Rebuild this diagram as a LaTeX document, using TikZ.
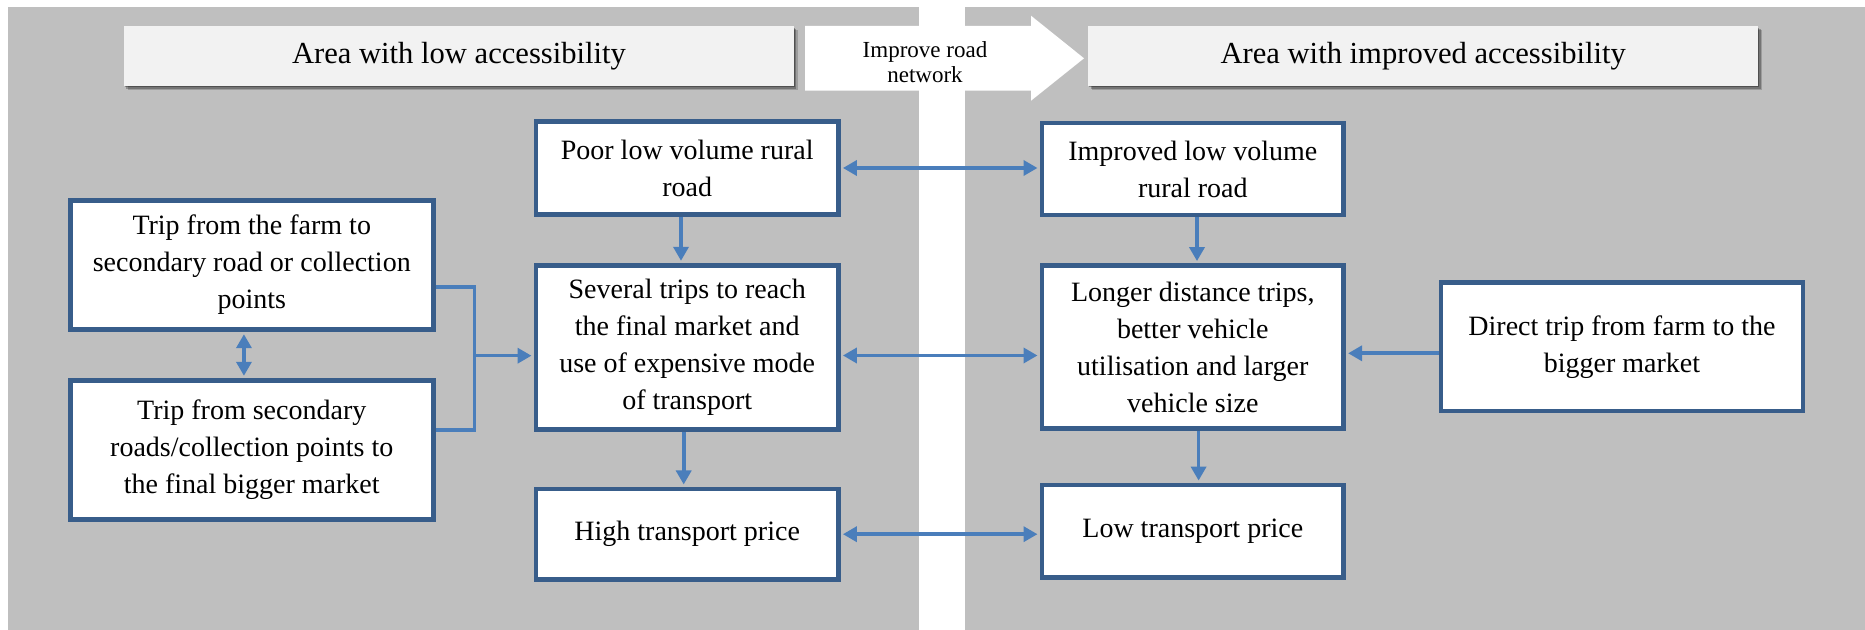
\documentclass[tikz,border=0pt]{standalone}
\usepackage{fontspec}
\setmainfont{Liberation Serif}
\usetikzlibrary{arrows.meta,shadows}
\definecolor{panelgray}{HTML}{BFBFBF}
\definecolor{headfill}{HTML}{F2F2F2}
\definecolor{boxedge}{HTML}{385D8A}
\definecolor{linkblue}{HTML}{4A7EBB}

\begin{document}
\begin{tikzpicture}[x=0.5pt, y=-0.5pt,
  panel/.style={fill=panelgray, draw=none},
  header/.style={fill=headfill, draw=none, inner sep=0pt,
    minimum width=335pt, minimum height=29.85pt,
    font=\fontsize{15.3}{18}\selectfont,
    drop shadow={shadow xshift=1.8pt, shadow yshift=-2.2pt, opacity=0.18, fill=black},
    drop shadow={shadow xshift=1.2pt, shadow yshift=-1.5pt, opacity=0.25, fill=black},
    drop shadow={shadow xshift=0.6pt, shadow yshift=-0.8pt, opacity=0.3, fill=black}},
  box/.style={draw=boxedge, line width=2.3pt, fill=white, inner sep=0pt,
    align=center, font=\fontsize{14}{18.5}\selectfont},
  tipshape/.tip={Triangle[length=7pt,width=7.5pt]},
  linkline/.style={draw=linkblue, line width=1.8pt},
  oneway/.style={linkline, -tipshape, shorten >=1.1pt},
  twoway/.style={linkline, tipshape-tipshape, shorten >=1.1pt, shorten <=1.1pt},
]
\useasboundingbox (0,0) rectangle (1865,630);

% two shaded areas separated by a white strip
\path[panel] (8.4,6.7) rectangle (919,630);
\path[panel] (965,6.7) rectangle (1865,630);

% area headings
\node[header] (hl) at (459,55.9) {Area with low accessibility};
\node[header] (hr) at (1423.2,55.9) {Area with improved accessibility};

% block arrow between the headings
\path[fill=white] (805,26) -- (1031,26) -- (1031,15.7) -- (1084,58.3)
  -- (1031,100.7) -- (1031,90.7) -- (805,90.7) -- cycle;
\node[font=\fontsize{11.5}{12.5}\selectfont, align=center, inner sep=0pt]
  (imp) at (925,62.5) {Improve road\\network};

% left area
\node[box, minimum width=181.5pt, minimum height=64.7pt] (A1) at (251.75,265)
  {Trip from the farm to\\secondary road or collection\\points};
\node[box, minimum width=181.5pt, minimum height=69.7pt] (A2) at (251.75,450)
  {Trip from secondary\\roads/collection points to\\the final bigger market};
\node[box, minimum width=151.2pt, minimum height=46.4pt] (B1) at (687.2,168)
  {Poor low volume rural\\road};
\node[box, minimum width=151.2pt, minimum height=82.2pt] (B2) at (687.2,347.5)
  {Several trips to reach\\the final market and\\use of expensive mode\\of transport};
\node[box, minimum width=151.2pt, minimum height=45.2pt] (B3) at (687.2,534.2)
  {High transport price};

% right area
\node[box, minimum width=150.8pt, minimum height=46pt] (C1) at (1192.8,169)
  {Improved low volume\\rural road};
\node[box, minimum width=150.8pt, minimum height=81.4pt] (C2) at (1192.8,347)
  {Longer distance trips,\\better vehicle\\utilisation and larger\\vehicle size};
\node[box, minimum width=150.8pt, minimum height=46.3pt] (C3) at (1192.8,531.4)
  {Low transport price};
\node[box, minimum width=181.1pt, minimum height=64.4pt] (D) at (1622,346.7)
  {Direct trip from farm to the\\bigger market};

% connectors, left area
\draw[twoway] ([xshift=-3.9pt]A1.south) -- ([xshift=-3.9pt]A2.north);
\coordinate (join) at (474.5,355.7);
\draw[linkline] ([yshift=-11pt]A1.east) -| (join) |- ([yshift=10pt]A2.east);
\draw[oneway] (join) -- (join -| B2.west);
\draw[oneway] ([xshift=-3.1pt]B1.south) -- ([xshift=-3.1pt]B2.north);
\draw[oneway] ([xshift=-1.75pt]B2.south) -- ([xshift=-1.75pt]B3.north);

% connectors across the strip
\draw[twoway] (B1.east) -- (B1.east -| C1.west);
\draw[twoway] ([yshift=-4pt]B2.east) -- ([yshift=-4pt]B2.east -| C2.west);
\draw[twoway] (B3.east) -- (B3.east -| C3.west);

% connectors, right area
\draw[oneway] ([xshift=2.1pt]C1.south) -- ([xshift=2.1pt]C2.north);
\draw[oneway] ([xshift=2.9pt]C2.south) -- ([xshift=2.9pt]C3.north);
\draw[oneway] ([yshift=-3.3pt]D.west) -- ([yshift=-3.3pt]D.west -| C2.east);
\end{tikzpicture}
\end{document}
